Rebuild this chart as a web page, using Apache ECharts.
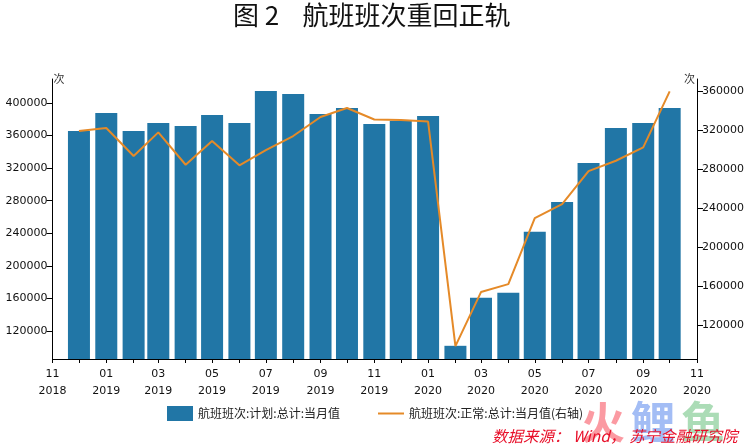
<!DOCTYPE html>
<html>
<head>
    <meta charset="utf-8">
    <title>ECharts</title>
    <script src="https://cdn.jsdelivr.net/npm/echarts@6/dist/echarts.min.js"></script>
    <style>html,body{margin:0;background:#fff}</style>
</head>
<body>
    <div id="main" style="width:749px;height:448px;"></div>
    <script type="text/javascript">
        var months = ['2018-12-01','2019-01-01','2019-02-01','2019-03-01','2019-04-01','2019-05-01','2019-06-01','2019-07-01','2019-08-01','2019-09-01','2019-10-01','2019-11-01','2019-12-01','2020-01-01','2020-02-01','2020-03-01','2020-04-01','2020-05-01','2020-06-01','2020-07-01','2020-08-01','2020-09-01','2020-10-01'];
        var planned = [365600,387700,365600,375500,371800,385300,375500,414700,411000,386500,393900,374200,378000,384000,101800,160700,166900,241700,278500,326400,369300,375500,393900];
        var normal = [319400,322500,293700,318000,284700,309100,284100,299800,314200,333800,343000,331200,330700,329100,98300,153800,162000,229900,244300,278200,288800,302600,360200];
        var labelMonths = ['2018-11-01','2019-01-01','2019-03-01','2019-05-01','2019-07-01','2019-09-01','2019-11-01','2020-01-01','2020-03-01','2020-05-01','2020-07-01','2020-09-01','2020-11-01'];
        var minorMonths = ['2018-12-01','2019-02-01','2019-04-01','2019-06-01','2019-08-01','2019-10-01','2019-12-01','2020-02-01','2020-04-01','2020-06-01','2020-08-01','2020-10-01'];
        var leftTicks = [120000,160000,200000,240000,280000,320000,360000,400000];
        var rightTicks = [120000,160000,200000,240000,280000,320000,360000];
        var plannedName = '航班班次:计划:总计:当月值';
        var normalName = '航班班次:正常:总计:当月值(右轴)';

        function ms(s) { return new Date(s).getTime(); }

        function pairs(values) {
            return values.map(function (v, i) { return [ms(months[i]), v]; });
        }

        function plain(v) { return String(v); }

        // 月份按真实天数排布，所以用数值轴而不是类目轴
        var xMin = ms('2018-11-01');
        var xMax = ms('2020-11-01');
        var labelFont = 'DejaVu Sans';
        var cjkFont = '"Noto Sans CJK SC"';
        var axisLine = { show: true, lineStyle: { color: '#000', width: 1 } };

        var myChart = echarts.init(document.getElementById('main'));
        var option = {
            animation: false,
            backgroundColor: '#fff',
            title: {
                text: '图 2    航班班次重回正轨',
                left: 228,
                top: -3,
                textStyle: { fontFamily: cjkFont, fontSize: 26, fontWeight: 'normal', color: '#111' }
            },
            grid: { left: 52.5, right: 52, top: 79, bottom: 89 },
            legend: {
                left: 167,
                top: 406,
                padding: 0,
                itemWidth: 26,
                itemHeight: 15,
                itemGap: 38,
                textStyle: { fontFamily: cjkFont, fontSize: 12, color: '#222' },
                data: [
                    { name: plannedName, icon: 'rect' },
                    { name: normalName, icon: 'path://M0,6.5H26V8.5H0Z' }
                ]
            },
            xAxis: {
                type: 'value',
                min: xMin,
                max: xMax,
                splitLine: { show: false },
                axisLine: axisLine,
                axisTick: { show: true, length: 4, lineStyle: { color: '#000' }, customValues: labelMonths.concat(minorMonths).map(ms) },
                axisLabel: {
                    customValues: labelMonths.map(ms),
                    formatter: function (v) { return echarts.time.format(v, '{MM}\n{yyyy}', true); },
                    fontFamily: labelFont,
                    fontSize: 11,
                    lineHeight: 17,
                    color: '#111',
                    margin: 7
                }
            },
            yAxis: [{
                type: 'value',
                min: 85600,
                max: 429400,
                name: '次',
                nameGap: 0,
                nameTextStyle: { fontFamily: cjkFont, fontSize: 11, color: '#333', align: 'left', verticalAlign: 'middle', padding: [3, 0, 0, 1] },
                splitLine: { show: false },
                axisLine: axisLine,
                axisTick: { show: true, length: 6, lineStyle: { color: '#000' }, customValues: leftTicks },
                axisLabel: { formatter: plain, fontFamily: labelFont, fontSize: 11, color: '#111', margin: 5, customValues: leftTicks }
            }, {
                type: 'value',
                position: 'right',
                min: 85000,
                max: 372850,
                name: '次',
                nameGap: 0,
                nameTextStyle: { fontFamily: cjkFont, fontSize: 11, color: '#333', align: 'right', verticalAlign: 'middle', padding: [3, 2, 0, 0] },
                splitLine: { show: false },
                axisLine: axisLine,
                axisTick: { show: true, length: 6, lineStyle: { color: '#000' }, customValues: rightTicks },
                axisLabel: { formatter: plain, fontFamily: labelFont, fontSize: 11, color: '#111', margin: 5, customValues: rightTicks }
            }],
            series: [{
                name: plannedName,
                type: 'bar',
                barWidth: 22,
                itemStyle: { color: '#2176a6' },
                data: pairs(planned)
            }, {
                name: normalName,
                type: 'line',
                yAxisIndex: 1,
                showSymbol: false,
                symbol: 'none',
                lineStyle: { color: '#e58a28', width: 2 },
                itemStyle: { color: '#e58a28' },
                data: pairs(normal)
            }],
            graphic: [
                { type: 'text', left: 581, top: 400, z: 10, style: { text: '火', fill: '#fb9aa2', font: 'bold 44px "Noto Sans CJK SC"' } },
                { type: 'text', left: 631, top: 400, z: 10, style: { text: '鲤', fill: '#a3bdf5', font: 'bold 44px "Noto Sans CJK SC"' } },
                { type: 'text', left: 681, top: 400, z: 10, style: { text: '鱼', fill: '#abdcb6', font: 'bold 44px "Noto Sans CJK SC"' } },
                { type: 'text', left: 492, top: 428, z: 11, style: { text: '数据来源： Wind， 苏宁金融研究院', fill: '#e8102a', font: 'italic 15.5px "Noto Sans CJK SC"' } }
            ]
        };
        myChart.setOption(option);
    </script>
</body>
</html>
